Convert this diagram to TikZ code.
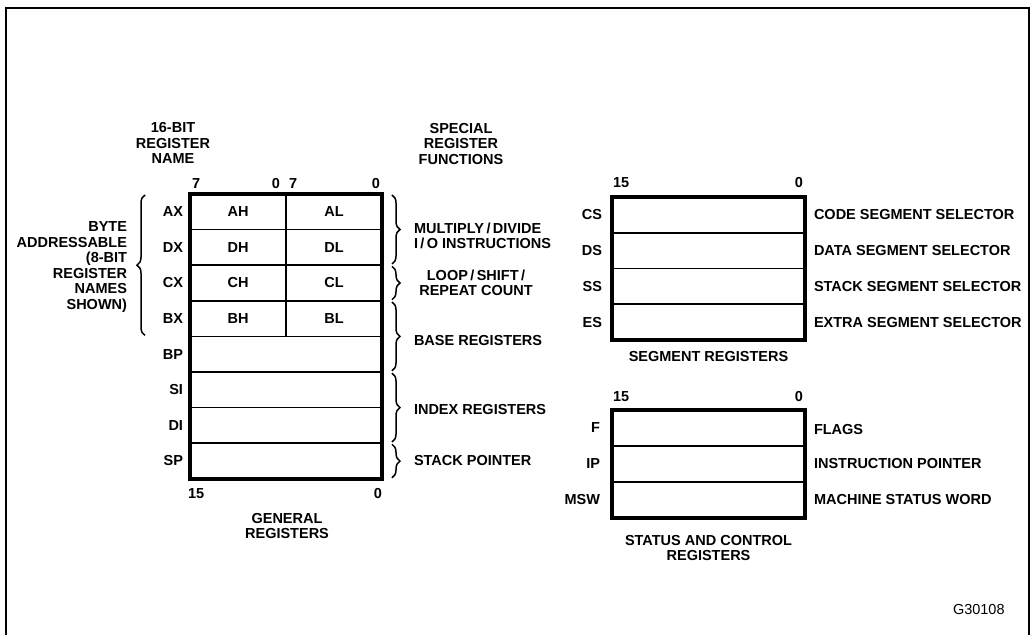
\documentclass[tikz,border=0pt]{standalone}
\usepackage{fontspec}
\setmainfont{Liberation Sans}
\usetikzlibrary{decorations.pathreplacing}
\begin{document}
\begin{tikzpicture}[x=0.5pt,y=-0.5pt,
  txt/.style={font=\fontsize{7.25}{7.75}\selectfont\bfseries, inner sep=0pt, outer sep=0pt, align=center},
  half/.style={txt, draw, line width=0.85pt, minimum width=48pt, minimum height=17.8pt},
  full/.style={draw, line width=0.85pt, minimum width=96pt, minimum height=17.8pt, inner sep=0pt, outer sep=0pt},
  srow/.style={draw, line width=0.85pt, minimum width=96.5pt, minimum height=17.875pt, inner sep=0pt, outer sep=0pt},
  crow/.style={srow, minimum height=18pt},
  outline/.style={line width=2pt},
  brc/.style={decorate, decoration={brace, amplitude=4pt}, line width=0.75pt},
  frame/.style={line width=1.1pt},
  rname/.style={txt, anchor=east},
  rfunc/.style={txt, anchor=west, align=left},
]
\useasboundingbox (0,0) rectangle (1031,635);
\draw[frame] (6,635) -- (6,8) -- (1029,8) -- (1029,635);

% headings
\node[txt] (hname) at (173,143) {16-BIT\\REGISTER\\NAME};
\node[txt] (hfunc) at (461,144) {SPECIAL\\REGISTER\\FUNCTIONS};

% general registers
\node[half] (ah) at (238,211.8) {AH};
\node[half] (al) at (334,211.8) {AL};
\node[half] (dh) at (238,247.4) {DH};
\node[half] (dl) at (334,247.4) {DL};
\node[half] (ch) at (238,283.0) {CH};
\node[half] (cl) at (334,283.0) {CL};
\node[half] (bh) at (238,318.6) {BH};
\node[half] (bl) at (334,318.6) {BL};
\node[full] (bp) at (286,354.2) {};
\node[full] (si) at (286,389.8) {};
\node[full] (di) at (286,425.4) {};
\node[full] (sp) at (286,461.0) {};
\draw[outline] (ah.north west) rectangle (sp.south east);

\node[rname] (nax) at ([xshift=-3.5pt]ah.west) {AX};
\node[rname] (ndx) at ([xshift=-3.5pt]dh.west) {DX};
\node[rname] (ncx) at ([xshift=-3.5pt]ch.west) {CX};
\node[rname] (nbx) at ([xshift=-3.5pt]bh.west) {BX};
\node[rname] (nbp) at ([xshift=-3.5pt]bp.west) {BP};
\node[rname] (nsi) at ([xshift=-3.5pt]si.west) {SI};
\node[rname] (ndi) at ([xshift=-3.5pt]di.west) {DI};
\node[rname] (nsp) at ([xshift=-3.5pt]sp.west) {SP};

\node[txt, anchor=south west] (t7a) at ([xshift=1pt,yshift=2.5pt]ah.north west) {7};
\node[txt, anchor=south east] (t0a) at ([xshift=-3pt,yshift=2.5pt]ah.north east) {0};
\node[txt, anchor=south west] (t7b) at ([xshift=1.5pt,yshift=2.5pt]al.north west) {7};
\node[txt, anchor=south east] (t0b) at ([xshift=-1pt,yshift=2.5pt]al.north east) {0};
\node[txt, anchor=north west] (g15) at ([xshift=-1pt,yshift=-5pt]sp.south west) {15};
\node[txt, anchor=north east] (g0) at ([yshift=-5pt]sp.south east) {0};
\node[txt] (gen) at (287,526) {GENERAL\\REGISTERS};

% left brace
\draw[brc] ([xshift=-22.5pt,yshift=0.5pt]bh.south west) -- ([xshift=-22.5pt,yshift=-0.5pt]ah.north west);
\node[txt, anchor=east, align=right] (byte) at (127,267) {BYTE\\ADDRESSABLE\\(8-BIT\\REGISTER\\NAMES\\SHOWN)};

% right braces
\draw[brc] ([xshift=5pt,yshift=-0.5pt]al.north east) -- ([xshift=5pt,yshift=0.6pt]dl.south east);
\draw[brc] ([xshift=5pt,yshift=-0.6pt]cl.north east) -- ([xshift=5pt,yshift=0.6pt]cl.south east);
\draw[brc] ([xshift=5pt,yshift=-0.6pt]bl.north east) -- ([xshift=5pt,yshift=0.6pt]bp.south east);
\draw[brc] ([xshift=5pt,yshift=-0.6pt]si.north east) -- ([xshift=5pt,yshift=0.6pt]di.south east);
\draw[brc] ([xshift=5pt,yshift=-0.6pt]sp.north east) -- ([xshift=5pt,yshift=0.5pt]sp.south east);
\node[rfunc] (fmul) at (414,236) {MULTIPLY\,/\,DIVIDE\\I\,/\,O INSTRUCTIONS};
\node[txt] (floop) at (476,283) {LOOP\,/\,SHIFT\,/\\REPEAT COUNT};
\node[rfunc] (fbase) at (414,341) {BASE REGISTERS};
\node[rfunc] (findex) at (414,410) {INDEX REGISTERS};
\node[rfunc] (fstack) at (414,461) {STACK POINTER};

% segment registers
\node[srow] (cs) at (708.5,214.9) {};
\node[srow] (ds) at (708.5,250.6) {};
\node[srow] (ss) at (708.5,286.4) {};
\node[srow] (es) at (708.5,322.1) {};
\draw[outline] (cs.north west) rectangle (es.south east);
\node[rname] (ncs) at ([xshift=-5pt]cs.west) {CS};
\node[rname] (nds) at ([xshift=-5pt]ds.west) {DS};
\node[rname] (nss) at ([xshift=-5pt]ss.west) {SS};
\node[rname] (nes) at ([xshift=-5pt]es.west) {ES};
\node[rfunc] (fcs) at ([xshift=4.5pt]cs.east) {CODE SEGMENT SELECTOR};
\node[rfunc] (fds) at ([xshift=4.5pt]ds.east) {DATA SEGMENT SELECTOR};
\node[rfunc] (fss) at ([xshift=4.5pt]ss.east) {STACK SEGMENT SELECTOR};
\node[rfunc] (fes) at ([xshift=4.5pt]es.east) {EXTRA SEGMENT SELECTOR};
\node[txt, anchor=south west] (s15) at ([xshift=0.5pt,yshift=4.5pt]cs.north west) {15};
\node[txt, anchor=south east] (s0) at ([xshift=-1pt,yshift=4.5pt]cs.north east) {0};
\node[txt] (seg) at (708.5,357) {SEGMENT REGISTERS};

% status and control registers
\node[crow] (fl) at (708.5,428) {};
\node[crow] (ip) at (708.5,464) {};
\node[crow] (msw) at (708.5,500) {};
\draw[outline] (fl.north west) rectangle (msw.south east);
\node[rname] (nfl) at ([xshift=-6pt]fl.west) {F};
\node[rname] (nip) at ([xshift=-6pt]ip.west) {IP};
\node[rname] (nmsw) at ([xshift=-6pt]msw.west) {MSW};
\node[rfunc] (ffl) at ([xshift=4.5pt,yshift=-1pt]fl.east) {FLAGS};
\node[rfunc] (fip) at ([xshift=4.5pt]ip.east) {INSTRUCTION POINTER};
\node[rfunc] (fmsw) at ([xshift=4.5pt]msw.east) {MACHINE STATUS WORD};
\node[txt, anchor=south west] (c15) at ([xshift=0.5pt,yshift=4pt]fl.north west) {15};
\node[txt, anchor=south east] (c0) at ([xshift=-1pt,yshift=4pt]fl.north east) {0};
\node[txt] (stat) at (708.5,548) {STATUS AND CONTROL\\REGISTERS};

\node[font=\fontsize{7.25}{7.75}\selectfont, anchor=east, inner sep=0pt] (gid) at (1005,610) {G30108};
\end{tikzpicture}
\end{document}
